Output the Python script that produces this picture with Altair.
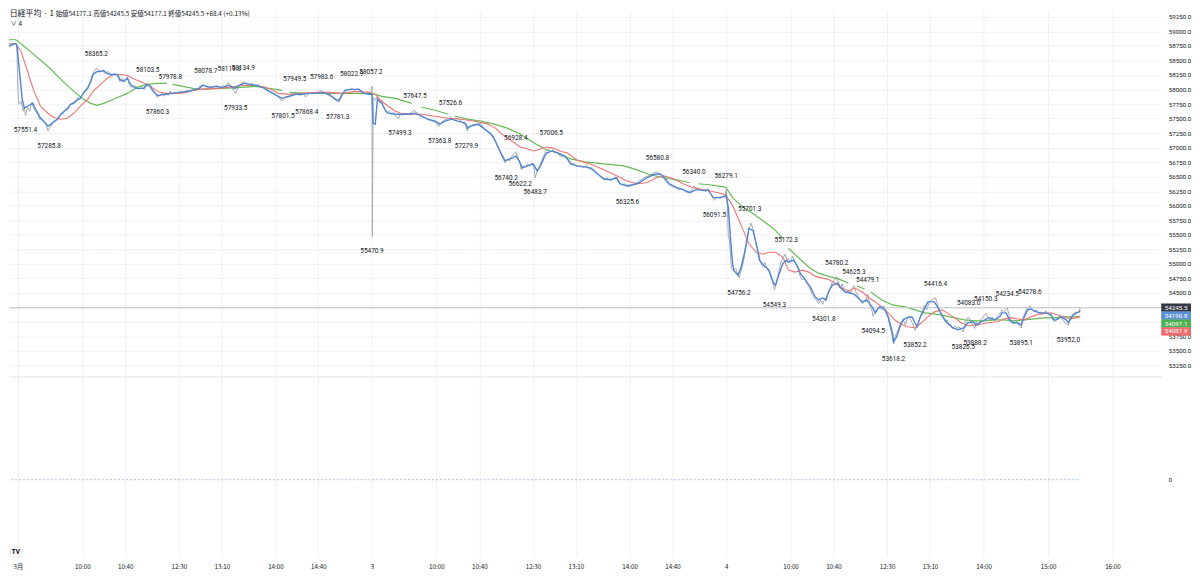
import altair as alt
import pandas as pd

# ---------------- data ----------------
# x = trading-minute index (0 = 9:00 of first day, 330 per session day)
RAW = [(-14,58771),(-11,58754),(-8,58737),(-5,58771),(-2,58788),(-1,58771),
(0,57968),(1,57745),(3,57797),(5,57626),(6,57694),(7,57551.4),(9,57694),(11,57626),(13,57780),(15,57660),(17,57609),(19,57557),(20,57489),(22,57506),(24,57438),(26,57404),(28,57285.8),(29,57318),(31,57386),(32,57421),(35,57472),(38,57523),(40,57591),(42,57574),(44,57660),(47,57694),(49,57745),(52,57780),(54,57814),(56,57865),(58,57831),(61,57951),(63,58002),(66,58070),(68,58173),(69,58241),(71,58310),(73,58365.2),(75,58344),(77,58310),(79,58327),(81,58275),(84,58310),(87,58241),(90,58275),(93,58207),(95,58139),(97,58190),(100,58139),(102,58224),(104,58070),(106,58036),(109,58070),(112,58002),(115,58036),(118,58002),(121,58103.5),(124,58070),(126,58002),(128,57933),(130,57860.3),(131,57882),(134,57916),(136,57882),(138,57933),(140,57899),(142,57978.8),(143,57916),(146,57951),(149,57933),(152,57968),(155,57951),(157,57985),(160,57968),(163,58002),(166,57985),(168,58036),(171,58070),(174,58078.7),(177,58019),(180,58053),(182,58036),(185,58070),(188,58019),(191,58070),(193,58036),(196,58119.8),(198,58053),(201,57985),(203,57933.5),(205,58036),(207,58070),(210,58134.9),(213,58105),(216,58088),(218,58105),(221,58070),(224,58088),(227,58036),(230,58053),(232,58002),(235,57968),(238,57933),(241,57899),(243,57865),(246,57801.5),(249,57865),(252,57882),(255,57916),(257,57949.5),(260,57916),(263,57899),(266,57933),(268,57868.4),(271,57933),(274,57933),(277,57951),(280,57933),(282,57983.6),(285,57951),(288,57916),(291,57882),(293,57865),(296,57814),(299,57781.3),(301,57848),(304,57951),(306,58002),(309,58002),(311,58022.9),(314,57985),(317,58019),(319,57985),(322,57933),(325,57933),(328,57916),(329,57951),
(330,58057.2),(330.3,55470.9),(331,57865),(333,57814),(335,57882),(337,57780),(339,57814),(340,57728),(342,57660),(344,57591),(346,57626),(348,57574),(350,57609),(352,57540),(355,57499.3),(356,57574),(358,57557),(361,57591),(364,57574),(367,57609),(369,57647.5),(372,57591),(375,57557),(378,57523),(380,57506),(383,57472),(386,57455),(389,57438),(392,57363.8),(394,57421),(397,57472),(400,57489),(403,57526.6),(406,57489),(408,57506),(411,57489),(414,57438),(417,57386),(419,57279.9),(420,57352),(423,57386),(426,57404),(429,57386),(431,57421),(434,57335),(437,57284),(440,57233),(443,57199),(445,57096),(447,57011),(449,56942),(451,56857),(453,56771),(454,56740.2),(456,56805),(458,56771),(460,56840),(462,56891),(464,56928.4),(466,56823),(468,56737),(469,56622.2),(471,56686),(473,56669),(475,56720),(477,56686),(479,56737),(481,56652),(482,56483.7),(484,56600),(486,56669),(488,56771),(490,56857),(492,56942),(493,56959),(495,56976),(497,57006.5),(499,56959),(501,56908),(503,56925),(504,56874),(507,56840),(510,56857),(513,56788),(516,56737),(518,56720),(521,56669),(524,56686),(527,56652),(530,56703),(532,56634),(535,56652),(538,56600),(541,56532),(543,56498),(546,56446),(549,56481),(552,56429),(555,56463),(557,56498),(560,56395),(563,56361),(566,56378),(568,56325.6),(571,56344),(574,56378),(577,56395),(579,56429),(582,56463),(585,56498),(588,56515),(591,56549),(593,56566),(596,56580.8),(599,56532),(602,56463),(604,56412),(607,56361),(610,56327),(613,56310),(616,56275),(618,56292),(621,56258),(624,56224),(627,56258),(629,56292),(630,56340.0),(632,56310),(635,56292),(638,56275),(641,56241),(643,56292),(646,56190),(649,56091.5),(652,56156),(654,56121),(657,56156),(659,56139),
(660,56279.1),(661,56088),(662,55489),(663,55404),(665,54925),(667,54891),(669,54925),(671,54805),(672,54756.2),(674,54891),(676,55028),(678,55233),(679,55404),(681,55575),(683,55701.3),(685,55609),(687,55438),(689,55267),(691,55130),(692,55028),(694,54959),(696,55028),(698,54925),(700,54857),(702,54754),(704,54651),(705,54549.3),(707,54686),(709,54857),(711,55028),(713,55096),(715,55172.3),(717,55028),(718,55096),(720,55028),(722,55130),(724,55028),(726,54959),(728,54857),(729,54788),(731,54720),(733,54754),(735,54669),(737,54617),(739,54532),(740,54480),(742,54412),(744,54378),(746,54310),(748,54378),(750,54301.8),(752,54412),(753,54361),(755,54480),(757,54583),(759,54686),(761,54720),(763,54780.2),(765,54669),(766,54583),(768,54651),(770,54549),(772,54498),(774,54549),(776,54480),(777,54566),(779,54625.3),(781,54515),(783,54429),(785,54378),(787,54310),(789,54378),(790,54344),(792,54479.1),(794,54275),(796,54190),(797,54094.5),(800,54207),(802,54241),(803,54275),(805,54207),(807,54275),(809,54173),(811,54070),(813,53899),(815,53729),(816,53618.2),(817,53729),(819,53814),(821,53899),(823,54002),(825,54036),(827,53951),(829,54070),(830,54104),(832,54036),(834,53968),(836,53852.2),(838,53933),(840,54036),(842,54139),(844,54241),(845,54292),(847,54207),(849,54327),(851,54378),(853,54395),(855,54416.4),(857,54310),(858,54207),(860,54139),(862,54070),(864,54002),(866,54036),(868,53933),(869,53968),(871,53882),(873,53933),(875,53899),(877,53916),(879,53865),(881,53826.5),(882,53933),(884,54053),(886,54083.0),(888,54002),(890,53933),(892,53888.2),(893,54002),(895,53933),(897,54036),(899,54070),(900,54104),(902,54150.3),(904,54070),(906,54036),(908,54087),(910,54019),(912,54070),(914,54122),(916,54173),(917,54207),(919,54173),(921,54224),(922,54234.5),(924,54104),(926,54002),(927,53968),(929,54036),(931,54002),(933,53933),(935,53895.1),(936,54036),(938,54139),(940,54224),(942,54241),(943,54278.6),(945,54207),(947,54173),(949,54207),(951,54139),(953,54173),(954,54122),(956,54156),(958,54190),(960,54139),(962,54104),(964,54070),(966,54002),(967,54036),(969,54070),(971,54104),(973,54053),(975,54002),(977,53968),(979,53952.0),(980,54036),(982,54104),(984,54156),(986,54139),(988,54173),(989,54173),(990,54245.5)]

BLUE = [(-14,58771),(-8,58754),(-2,58789),(-1,58771),(4,57831),(6,57677),(9,57712),(12,57746),(14,57763),(15,57712),(19,57575),(21,57506),(24,57455),(28,57370),(31,57404),(33,57438),(37,57489),(40,57575),(43,57626),(46,57660),(49,57746),(52,57763),(56,57831),(58,57848),(61,57934),(65,58019),(68,58139),(70,58259),(74,58310),(77,58310),(80,58327),(83,58276),(86,58259),(89,58259),(93,58259),(95,58173),(98,58139),(102,58190),(105,58088),(107,58053),(111,58019),(114,58019),(117,58019),(120,58088),(123,58053),(126,57968),(130,57900),(132,57900),(135,57917),(139,57917),(142,57934),(144,57934),(151,57951),(157,57968),(163,57985),(169,58019),(172,58071),(179,58036),(185,58053),(191,58036),(197,58071),(202,58019),(206,58071),(211,58105),(216,58088),(222,58071),(228,58036),(234,57968),(241,57900),(246,57848),(253,57883),(259,57917),(265,57917),(271,57934),(278,57934),(283,57951),(290,57917),(296,57831),(299,57814),(302,57917),(305,57985),(311,58002),(318,58002),(322,57934),(327,57917),(330,57917),(331,57421),(333,57404),(335,57831),(339,57763),(343,57626),(345,57592),(352,57575),(357,57575),(364,57575),(370,57592),(376,57541),(382,57489),(389,57455),(393,57404),(398,57455),(404,57489),(410,57455),(417,57421),(419,57335),(422,57370),(429,57404),(435,57318),(441,57233),(445,57113),(450,56908),(454,56771),(456,56789),(461,56823),(464,56857),(467,56771),(470,56652),(475,56686),(480,56720),(484,56600),(487,56686),(491,56857),(493,56908),(498,56942),(503,56908),(509,56857),(512,56806),(515,56720),(521,56686),(528,56669),(533,56652),(540,56549),(546,56464),(552,56447),(558,56481),(561,56378),(567,56344),(574,56361),(579,56395),(586,56481),(592,56532),(598,56549),(602,56498),(607,56378),(614,56310),(620,56276),(626,56224),(632,56276),(639,56259),(643,56276),(648,56139),(654,56139),(660,56173),(662,55968),(664,55455),(666,55011),(667,54891),(671,54806),(674,54942),(677,55182),(680,55455),(681,55609),(685,55575),(688,55353),(691,55062),(695,54977),(700,54891),(704,54669),(706,54635),(709,54806),(713,55011),(716,55062),(718,55028),(723,55062),(727,54942),(729,54840),(734,54720),(739,54583),(743,54430),(746,54378),(750,54412),(753,54378),(755,54498),(759,54635),(764,54669),(766,54601),(771,54515),(776,54498),(780,54464),(783,54412),(787,54344),(791,54378),(796,54258),(799,54156),(802,54241),(805,54258),(808,54207),(811,54087),(815,53814),(816,53660),(819,53746),(822,53917),(825,54036),(828,54070),(833,54087),(836,53985),(838,53917),(841,54087),(843,54156),(848,54344),(852,54344),(854,54344),(857,54258),(862,54087),(866,53985),(871,53900),(876,53865),(879,53883),(882,53900),(885,53985),(890,54002),(893,53951),(896,53985),(901,54036),(905,54070),(910,54036),(915,54087),(917,54156),(921,54156),(924,54036),(927,53985),(931,53985),(935,53951),(938,54087),(941,54207),(944,54224),(949,54173),(953,54156),(958,54156),(963,54122),(965,54036),(968,54036),(972,54087),(977,54036),(979,53985),(982,54087),(986,54156),(989,54173),(990,54190.8)]

RED = [(-14,58788),(-2,58788),(3,58651),(9,58310),(15,57968),(21,57711),(28,57591),(33,57523),(40,57489),(46,57506),(52,57591),(58,57711),(65,57831),(70,57968),(77,58088),(83,58190),(89,58258),(95,58258),(102,58241),(107,58190),(114,58139),(120,58088),(126,58019),(132,57951),(139,57933),(144,57933),(151,57933),(157,57951),(163,57985),(169,58002),(185,58019),(197,58036),(209,58070),(222,58070),(234,58019),(243,57933),(253,57916),(265,57933),(278,57951),(290,57951),(302,57933),(315,57968),(327,57951),(333,57916),(339,57797),(345,57711),(352,57626),(357,57591),(367,57574),(376,57574),(389,57540),(401,57506),(413,57489),(426,57455),(438,57404),(445,57335),(450,57250),(456,57164),(463,57079),(468,57011),(475,56976),(481,56942),(487,56976),(493,57011),(499,56993),(505,56942),(512,56908),(521,56788),(533,56720),(546,56617),(558,56515),(567,56429),(577,56378),(586,56395),(595,56481),(602,56515),(611,56463),(620,56378),(629,56310),(639,56275),(648,56241),(657,56207),(660,56173),(666,56002),(672,55745),(676,55575),(681,55353),(688,55198),(694,55164),(700,55198),(706,55198),(713,55113),(718,54891),(724,54857),(731,54891),(737,54857),(743,54788),(750,54754),(755,54737),(761,54669),(768,54583),(774,54532),(780,54583),(787,54515),(792,54429),(799,54344),(805,54258),(811,54156),(817,54036),(824,53951),(829,53916),(836,53899),(842,53985),(848,54087),(854,54173),(861,54207),(866,54156),(873,54070),(879,53985),(885,53933),(894,53951),(904,53985),(913,54002),(919,54053),(926,54070),(931,54053),(938,54036),(944,54087),(953,54139),(963,54156),(968,54122),(975,54087),(981,54053),(986,54070),(990,54087.9)]

GREEN_SEGMENTS = [
    [(-14,58856),(-2,58856),(3,58788),(15,58600),(28,58395),(40,58173),(52,57968),(61,57831),(68,57762),(74,57728),(80,57762),(89,57831),(102,57933),(111,58036),(120,58088),(130,58105),(139,58105)],
    [(144,58088),(154,58053),(163,58019),(169,58002),(191,58019),(209,58036),(222,58053),(234,58019),(246,57985)],
    [(253,57951),(268,57933),(283,57933),(299,57933),(315,57933),(330,57933),(339,57882),(352,57848),(367,57762)],
    [(376,57694),(389,57643),(401,57574)],
    [(407,57540),(419,57489),(431,57455),(444,57404),(456,57335),(468,57233),(481,57079),(493,56959),(503,56908),(515,56805),(528,56754),(546,56720),(565,56686),(577,56617),(589,56532),(602,56481),(614,56446),(626,56395)],
    [(634,56378),(644,56361),(657,56327),(660,56310),(666,56139),(676,55968),(685,55865),(694,55745),(704,55609),(713,55438)],
    [(718,55267),(728,55096),(737,54942),(746,54839),(755,54788),(765,54737),(774,54669)],
    [(782,54617),(789,54566)],
    [(795,54515),(805,54378),(815,54292),(827,54258),(836,54207),(845,54156),(854,54139),(864,54104),(873,54070),(882,54036),(892,54019),(901,54019),(910,54036),(919,54036),(928,54019),(938,54036),(947,54053),(956,54070),(966,54070),(975,54087),(984,54087),(990,54097.1)],
]

HIGH_T = [73,121,142,175,197,210,258,283,311,329,370,403,464,497,596,630,660,682,716,763,779,792,855,886,902,922,943]
HIGH_V = [58365.2,58103.5,57978.8,58078.7,58119.8,58134.9,57949.5,57983.6,58022.9,58057.2,57647.5,57526.6,56928.4,57006.5,56580.8,56340.0,56279.1,55701.3,55172.3,54780.2,54625.3,54479.1,54416.4,54083.0,54150.3,54234.5,54278.6]
LOW_T = [7,29,130,203,247,269,298,330,356,393,418,455,468,482,568,649,672,705,751,797,816,836,881,892,935,979]
LOW_V = [57551.4,57285.8,57860.3,57933.5,57801.5,57868.4,57781.3,55470.9,57499.3,57363.8,57279.9,56740.2,56622.2,56483.7,56325.6,56091.5,54756.2,54549.3,54301.8,54094.5,53618.2,53852.2,53826.5,53888.2,53895.1,53952.0]

TICK_T = [0,60,100,150,190,240,280,330,390,430,480,520,570,610,660,720,760,810,850,900,960,1020]
TICK_LABEL = ["3月","10:00","10:40","12:30","13:10","14:00","14:40","3","10:00","10:40","12:30","13:10","14:00","14:40","4","10:00","10:40","12:30","13:10","14:00","15:00","16:00"]
PRICE_TICKS = list(range(53250, 59251, 250))
PRICE_TICKS_HIDDEN = [54250, 54000]   # covered by the last-value boxes in the reference

LAST_NAME = ["close", "fast", "slow", "mid"]
LAST_VAL = [54245.5, 54190.8, 54097.1, 54087.9]
LAST_COLOR = ["#363a45", "#5b8fd6", "#4caf50", "#ef6b6b"]
CLOSE_PRICE = [54245.5]
INDICATOR_T = [-14, 990]
INDICATOR_V = [0, 0]

TITLE_MAIN = "日経平均 · 1"
TITLE_OHLC = "始値54177.1  高値54245.5  安値54177.1  終値54245.5  +68.4 (+0.13%)"
COUNT_BADGE = "∨ 4"

# ---------------- layout ----------------
PX_PER_MIN = 1.0803
W = 1160
T_MIN = -8.33
T_MAX = T_MIN + W / PX_PER_MIN
H1 = 369
P_MIN, P_MAX = 53062, 59370
PX_PER_P = H1 / (P_MAX - P_MIN)
H2 = 182
I_MIN, I_MAX = -0.75, 1.0

FONT = "Roboto"
CJK = "Noto Sans CJK JP"
GRID = "#eef0f4"
TXT = "#131722"

xs = alt.Scale(domain=[T_MIN, T_MAX], nice=False, zero=False)
ys = alt.Scale(domain=[P_MIN, P_MAX], nice=False, zero=False)

hidden_expr = " || ".join(f"datum.value == {v}" for v in PRICE_TICKS_HIDDEN)
x_top = alt.X("t:Q", scale=xs, axis=alt.Axis(values=TICK_T, tickCount=len(TICK_T) + 5, labels=False,
                                              ticks=False, domain=True, domainColor="#e0e3eb", grid=True,
                                              gridColor=GRID, title=None))
y_top = alt.Y("p:Q", scale=ys, axis=alt.Axis(orient="right", values=PRICE_TICKS, tickCount=len(PRICE_TICKS) + 5,
                                              grid=True, gridColor=GRID, ticks=False, domain=False,
                                              labelFontSize=6.3, labelColor=TXT, labelFont=FONT, labelPadding=7,
                                              title=None, labelOverlap=False, labelFlush=False,
                                              labelExpr=f"({hidden_expr}) ? '' : format(datum.value, '.1f')"))

def df(pairs):
    return pd.DataFrame(pairs, columns=["t", "p"])

raw_df = df(RAW)
blue_df = df(BLUE)
red_df = df(RED)
green_df = pd.concat([df(s).assign(seg=i) for i, s in enumerate(GREEN_SEGMENTS)], ignore_index=True)

gray = alt.Chart(raw_df).mark_line(color="#a4a7ae", strokeWidth=1, clip=True).encode(x=x_top, y=y_top)
green = alt.Chart(green_df).mark_line(color="#66bb55", strokeWidth=1.2, clip=True).encode(
    x="t:Q", y="p:Q", detail="seg:N")
red = alt.Chart(red_df).mark_line(color="#f07474", strokeWidth=1.1, clip=True).encode(x="t:Q", y="p:Q")
blue = alt.Chart(blue_df).mark_line(color="#4f86d2", strokeWidth=1.4, clip=True).encode(x="t:Q", y="p:Q")

close_rule = alt.Chart(pd.DataFrame({"p": CLOSE_PRICE})).mark_rule(color="#c8cbd2", strokeWidth=1).encode(y="p:Q")

hi_df = pd.DataFrame({"t": HIGH_T, "p": HIGH_V, "lab": [f"{v:.1f}" for v in HIGH_V]})
lo_df = pd.DataFrame({"t": LOW_T, "p": LOW_V, "lab": [f"{v:.1f}" for v in LOW_V]})
hi_txt = alt.Chart(hi_df).mark_text(dy=-14, fontSize=6.5, font=FONT, color=TXT).encode(x="t:Q", y="p:Q", text="lab:N")
lo_txt = alt.Chart(lo_df).mark_text(dy=15, fontSize=6.5, font=FONT, color=TXT).encode(x="t:Q", y="p:Q", text="lab:N")

# last-value boxes on the price scale, stacked so they do not overlap
gap = 8 / PX_PER_P
half = 4.2 / PX_PER_P
pos = []
for v in LAST_VAL:
    pos.append(v if not pos else min(v, pos[-1] - gap))
box_df = pd.DataFrame({
    "name": LAST_NAME, "val": LAST_VAL, "color": LAST_COLOR,
    "y1": [p + half for p in pos], "y2": [p - half for p in pos], "yc": pos,
    "x1": [T_MAX] * 4, "x2": [T_MAX + 30 / PX_PER_MIN] * 4, "xc": [T_MAX + 15 / PX_PER_MIN] * 4,
    "lab": [f"{v:.1f}" for v in LAST_VAL],
})
boxes = alt.Chart(box_df).mark_rect().encode(
    x="x1:Q", x2="x2:Q", y="y1:Q", y2="y2:Q",
    color=alt.Color("color:N", scale=None))
box_txt = alt.Chart(box_df).mark_text(fontSize=6.3, font=FONT, color="white").encode(
    x="xc:Q", y="yc:Q", text="lab:N")

head_df = pd.DataFrame({
    "t": [T_MIN + 0.6, (55 - 17) / PX_PER_MIN, T_MIN + 1.5],
    "p": [P_MAX - 4 / PX_PER_P, P_MAX - 4 / PX_PER_P, P_MAX - 14 / PX_PER_P],
    "txt": [TITLE_MAIN, TITLE_OHLC, COUNT_BADGE],
    "size": [8, 6.5, 6.5],
})
head = alt.Chart(head_df).mark_text(align="left", baseline="middle", font=CJK, color=TXT).encode(
    x="t:Q", y="p:Q", text="txt:N", size=alt.Size("size:Q", scale=None))

top = alt.layer(gray, green, red, close_rule, blue, hi_txt, lo_txt, boxes, box_txt, head).properties(
    width=W, height=H1)

# ---------------- lower pane ----------------
ix = alt.Scale(domain=[I_MIN, I_MAX], nice=False, zero=False)
x_bot = alt.X("t:Q", scale=xs, axis=alt.Axis(
    values=TICK_T, tickCount=len(TICK_T) + 5, grid=True, gridColor=GRID, ticks=False, domain=False,
    labelFontSize=6.3, labelColor=TXT, labelFont=CJK, labelPadding=6, title=None, labelOverlap=False,
    labelFlush=False,
    labelExpr="[" + ",".join(f"'{s}'" for s in TICK_LABEL) + "][indexof(["
              + ",".join(str(v) for v in TICK_T) + "], datum.value)]"))
y_bot = alt.Y("v:Q", scale=ix, axis=alt.Axis(orient="right", values=[0], format="d", grid=False, ticks=False,
                                             domain=False, labelFontSize=6.3, labelColor=TXT, labelFont=FONT,
                                             labelPadding=7, title=None))
ind = alt.Chart(pd.DataFrame({"t": INDICATOR_T, "v": INDICATOR_V})).mark_line(
    color="#a9c2ee", strokeWidth=1, strokeDash=[2, 2], clip=True).encode(x=x_bot, y=y_bot)
logo_df = pd.DataFrame({"t": [-2.0], "v": [I_MAX - 177 * (I_MAX - I_MIN) / H2], "txt": ["TV"]})
logo_c = alt.Chart(logo_df).mark_point(filled=True, fill="white", stroke="#e0e3eb", strokeWidth=1, size=130,
                                       opacity=1).encode(x="t:Q", y="v:Q")
logo_t = alt.Chart(logo_df).mark_text(fontSize=6.5, fontWeight="bold", font=FONT, color="#000000").encode(
    x="t:Q", y="v:Q", text="txt:N")
bottom = alt.layer(ind, logo_c, logo_t).properties(width=W, height=H2)

chart = alt.vconcat(top, bottom, spacing=0).properties(padding=0).configure_view(stroke=None)
chart.save("out.html", embed_options={"renderer": "svg", "actions": False})
